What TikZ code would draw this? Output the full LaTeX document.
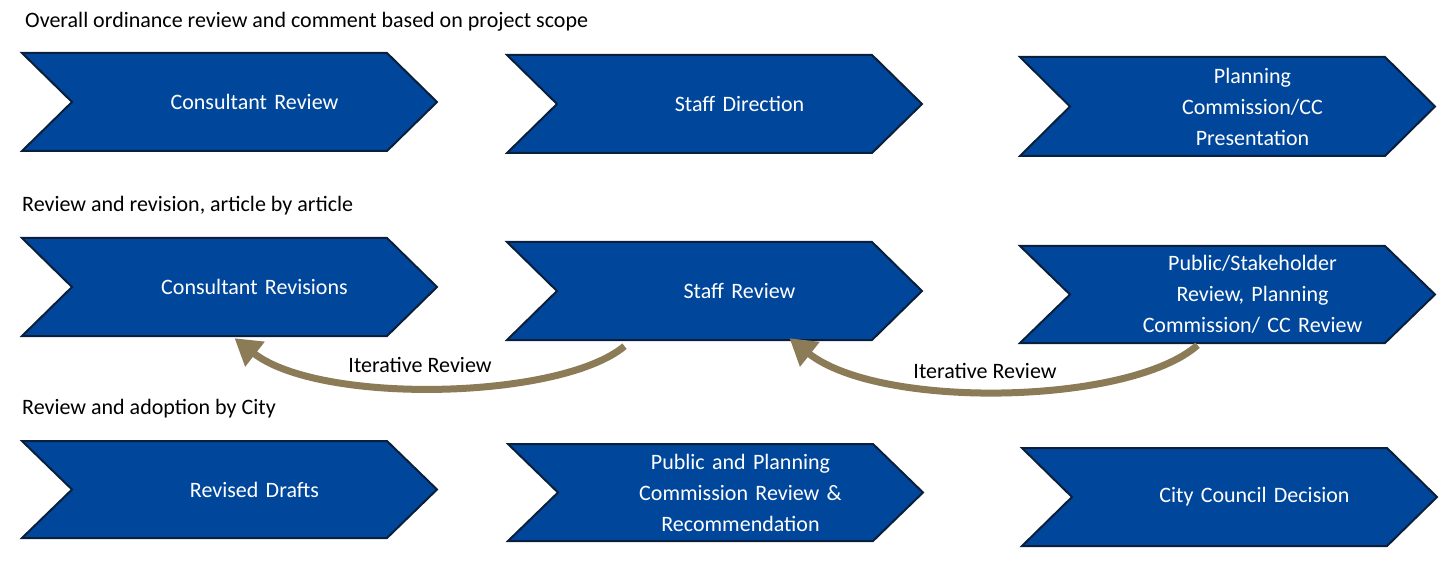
\documentclass[tikz,border=0pt]{standalone}
\usepackage{fontspec}
\setmainfont{Carlito}
\usetikzlibrary{calc,arrows.meta}
\definecolor{cblue}{HTML}{00479B}
\definecolor{cedge}{HTML}{0A1F3C}
\definecolor{cgold}{HTML}{8C7B57}
\tikzset{
  chevbox/.style={minimum width=415pt,minimum height=#1,inner sep=0pt,text=white,font=\fontsize{22}{31}\selectfont,align=center,text width=260pt},
  hdr/.style={anchor=west,font=\fontsize{22}{26}\selectfont,inner sep=0pt},
  iter/.style={draw=cgold,line width=7pt,-{Triangle[length=26pt,width=30pt]}},
}
\newcommand{\chev}[5]{%
  \node[chevbox=#3-#2] (#4) at ({#1+207.5+25},{(#2+#3)/2}) {#5};
  \fill[cblue,draw=cedge,line width=2pt] (#1,#2) -- ({#1+365},#2) -- ({#1+415},{(#2+#3)/2}) -- ({#1+365},#3) -- (#1,#3) -- ({#1+50},{(#2+#3)/2}) -- cycle;
  \node[chevbox=#3-#2] at ({#1+207.5+25},{(#2+#3)/2}) {#5};
}
\begin{document}
\begin{tikzpicture}[x=1pt,y=-1pt]
\useasboundingbox (0,0) rectangle (1452,564);
\node[hdr] (h1) at (25,22) {Overall ordinance review and comment based on project scope};
\node[hdr] (h2) at (22,206) {Review and revision, article by article};
\node[hdr] (h3) at (22,409) {Review and adoption by City};
\chev{22}{53}{151}{a1}{Consultant Review}
\chev{507}{55}{153}{a2}{Staff Direction}
\chev{1020}{57}{156}{a3}{Planning\\Commission/CC\\Presentation}
\chev{22}{238}{336}{b1}{Consultant Revisions}
\chev{507}{242}{340}{b2}{Staff Review}
\chev{1020}{246}{343}{b3}{Public/Stakeholder\\Review, Planning\\Commission/ CC Review}
\chev{22}{441}{538}{c1}{Revised Drafts}
\chev{508}{444}{541}{c2}{Public and Planning\\Commission Review \&\\Recommendation}
\chev{1022}{448}{546}{c3}{City Council Decision}
\coordinate (s1) at ($(b2.south)+(-115,6)$);
\coordinate (e1) at ($(b1.south)+(-20,2)$);
\coordinate (s2) at ($(b3.south)+(-55,2)$);
\coordinate (e2) at ($(b2.south)+(50,-2)$);
\draw[iter] (s1) .. controls (560,400) and (320,405) .. (e1);
\draw[iter] (s2) .. controls (1130,405) and (880,410) .. (e2);
\node[font=\fontsize{22}{26}\selectfont] (l1) at (420,365) {Iterative Review};
\node[font=\fontsize{22}{26}\selectfont] (l2) at (985,371) {Iterative Review};
\end{tikzpicture}
\end{document}
